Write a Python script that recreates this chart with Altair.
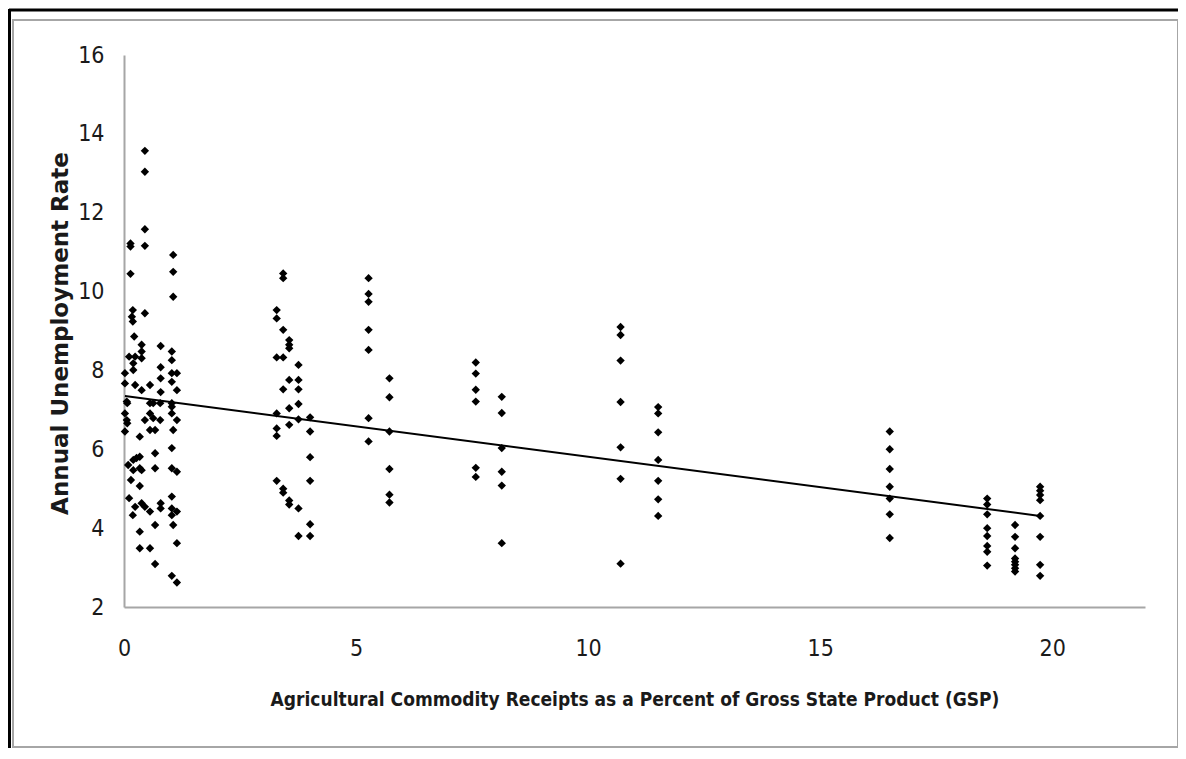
import altair as alt
import pandas as pd

# --- data (x = % of GSP, y = unemployment rate) ---
low_x = [0.45, 0.45, 0.45, 0.14, 0.14, 0.45, 1.06, 0.14, 1.06, 1.06, 0.19, 0.17, 0.19, 0.45, 0.22,
         0.38, 0.38, 0.38, 0.79, 0.11, 0.24, 0.20, 1.03, 1.03, 0.79, 0.20,
         0.02, 0.02, 0.79, 1.03, 1.14, 1.03, 0.24, 0.38, 0.56, 0.79, 1.14,
         0.06, 0.07, 0.56, 0.63, 0.78, 1.03, 1.03, 1.03, 0.02, 0.06, 0.07, 0.45, 0.56, 0.63, 0.78,
         1.14, 0.02, 0.34, 0.56, 0.67, 1.06,
         1.03, 0.67, 0.09, 0.20, 0.27, 0.34, 0.20, 0.34, 0.38, 0.67, 1.03, 1.14, 0.15, 0.34, 0.11,
         0.24, 0.19, 0.38, 0.45, 0.56, 0.79, 0.79, 1.03, 1.03, 1.14, 1.03, 0.67, 1.06, 0.34, 0.34,
         0.56, 1.14, 0.67, 1.03, 1.14]
low_y = [13.57, 13.04, 11.58, 11.22, 11.14, 11.16, 10.93, 10.45, 10.50, 9.87, 9.53, 9.36, 9.24, 9.45, 8.86,
         8.65, 8.48, 8.31, 8.62, 8.35, 8.35, 8.18, 8.48, 8.26, 8.08, 8.01,
         7.93, 7.67, 7.80, 7.93, 7.93, 7.71, 7.63, 7.50, 7.63, 7.45, 7.50,
         7.21, 7.17, 7.17, 7.17, 7.17, 7.17, 7.08, 6.91, 6.91, 6.74, 6.66, 6.74, 6.91, 6.79, 6.74,
         6.74, 6.45, 6.32, 6.49, 6.49, 6.49,
         6.03, 5.90, 5.60, 5.73, 5.78, 5.81, 5.47, 5.52, 5.47, 5.52, 5.52, 5.43, 5.22, 5.07, 4.76,
         4.54, 4.33, 4.63, 4.54, 4.42, 4.63, 4.50, 4.80, 4.50, 4.42, 4.33, 4.08, 4.08, 3.91, 3.49,
         3.49, 3.62, 3.09, 2.79, 2.62]

mid_x = [3.43, 3.43, 3.29, 3.29, 3.43, 3.56, 3.56, 3.56, 3.29, 3.43, 3.76, 3.56, 3.76, 3.43, 3.76,
         3.76, 3.56, 3.29, 3.56, 3.76, 4.01, 3.29, 3.29, 4.01,
         3.29, 3.43, 3.43, 3.56, 3.56, 3.76, 3.76, 4.01, 4.01, 4.01, 4.01]
mid_y = [10.46, 10.34, 9.53, 9.32, 9.03, 8.77, 8.65, 8.56, 8.33, 8.33, 8.14, 7.76, 7.76, 7.52, 7.52,
         7.15, 7.04, 6.91, 6.62, 6.76, 6.81, 6.53, 6.34, 6.45,
         5.20, 5.00, 4.90, 4.70, 4.60, 4.50, 3.80, 5.80, 5.20, 4.10, 3.80]

c5_x = [5.27] * 7 + [5.72] * 6
c5_y = [10.34, 9.94, 9.74, 9.03, 8.52, 6.79, 6.20, 7.80, 7.32, 6.45, 5.50, 4.85, 4.65]

c8_x = [7.58] * 6 + [8.14] * 6
c8_y = [8.20, 7.92, 7.51, 7.21, 5.53, 5.30, 7.33, 6.92, 6.03, 5.43, 5.08, 3.62]

c11_x = [10.70] * 7 + [11.51] * 7
c11_y = [9.10, 8.90, 8.25, 7.20, 6.05, 5.25, 3.10, 7.07, 6.91, 6.43, 5.73, 5.20, 4.73, 4.31]

high_x = [16.5] * 7 + [18.6] * 8 + [19.2] * 8 + [19.74] * 8
high_y = [6.45, 6.00, 5.50, 5.05, 4.75, 4.35, 3.75,
          4.75, 4.60, 4.35, 4.00, 3.80, 3.55, 3.40, 3.05,
          4.08, 3.78, 3.49, 3.23, 3.15, 3.07, 2.98, 2.90,
          5.05, 4.95, 4.84, 4.71, 4.31, 3.78, 3.07, 2.79]

# linear trendline as drawn in the reference (endpoints)
trend_x = [0.02, 19.74]
trend_y = [7.35, 4.31]

x_ticks = [0, 5, 10, 15, 20]
y_ticks = [2, 4, 6, 8, 10, 12, 14, 16]

X_TITLE = "Agricultural Commodity Receipts as a Percent of Gross State Product (GSP)"
Y_TITLE = "Annual Unemployment Rate"

df = pd.DataFrame({
    "x": low_x + mid_x + c5_x + c8_x + c11_x + high_x,
    "y": low_y + mid_y + c5_y + c8_y + c11_y + high_y,
})
trend_df = pd.DataFrame({"x": trend_x, "y": trend_y})

W, H = 1021, 552
FONT = "DejaVu Sans Condensed, Liberation Sans Narrow, sans-serif"

xs = alt.X("x:Q", scale=alt.Scale(domain=[0, 22], nice=False),
           axis=alt.Axis(values=x_ticks, title=X_TITLE, grid=False, ticks=False,
                         labelPadding=30, titlePadding=30, labelFontSize=23,
                         titleFontSize=19, titleFontWeight="bold", labelFlush=False))
ys = alt.Y("y:Q", scale=alt.Scale(domain=[2, 16], nice=False),
           axis=alt.Axis(values=y_ticks, title=Y_TITLE, grid=False, ticks=False,
                         labelPadding=20, labelFontSize=23, titleFontSize=23,
                         titleFontWeight="bold", titleFont="DejaVu Sans",
                         titleX=-64, titleY=H / 2 + 2, titleAngle=-90,
                         titleAlign="center", titleBaseline="middle", labelFlush=False))

points = alt.Chart(df).mark_point(shape="diamond", filled=True, size=70,
                                  color="black", opacity=1).encode(x=xs, y=ys)

trend = alt.Chart(trend_df).mark_line(color="black", strokeWidth=2).encode(
    x="x:Q", y="y:Q")

# decorative frames (Excel chart border)
one = pd.DataFrame({"a": [0]})
inner = alt.Chart(one).mark_rect(
    fill=None, stroke="#a6a6a6", strokeWidth=2).encode(
    x=alt.value(-111), x2=alt.value(1054), y=alt.value(-35), y2=alt.value(692))
outer_top = alt.Chart(one).mark_rule(
    color="black", strokeWidth=3).encode(
    x=alt.value(-115), x2=alt.value(1060), y=alt.value(-45))
outer_left = alt.Chart(one).mark_rule(
    color="black", strokeWidth=3).encode(
    x=alt.value(-114.5), y=alt.value(-46), y2=alt.value(700))

chart = alt.layer(inner, outer_top, outer_left, points, trend).properties(
    width=W, height=H,
    autosize=alt.AutoSizeParams(type="none"),
    padding={"left": 116, "top": 47, "right": 33, "bottom": 141},
).configure_view(stroke=None).configure_axis(
    domainColor="#a6a6a6", domainWidth=2, labelColor="#1a1a1a", titleColor="#1a1a1a",
    labelFont=FONT, titleFont=FONT,
)

chart.save("out.html", embed_options={"renderer": "svg", "actions": False})
